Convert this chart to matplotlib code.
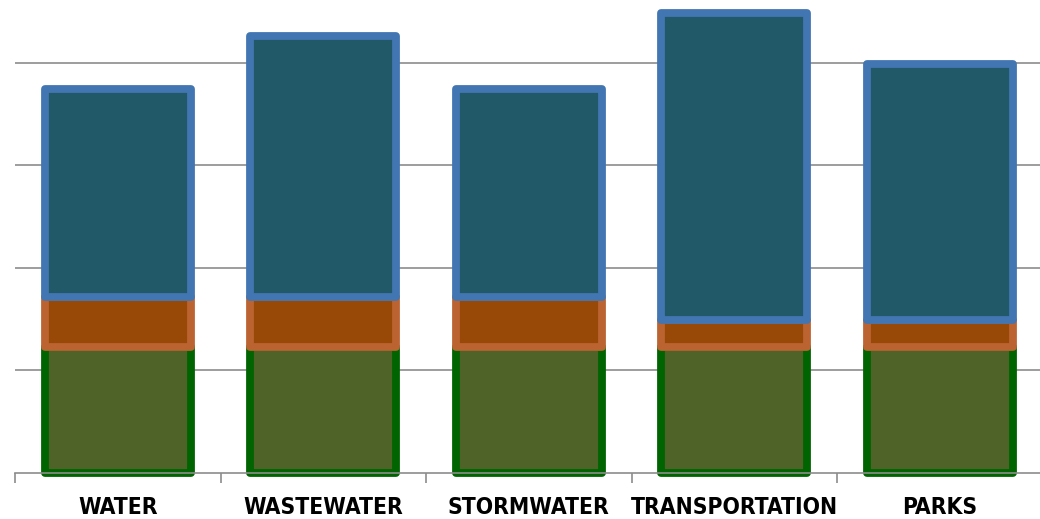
import matplotlib as mpl

mpl.use("Agg")
import matplotlib.pyplot as plt
from matplotlib import font_manager
import numpy as np

# --- data (grid spacing = 10 units) ---
categories = ["WATER", "WASTEWATER", "STORMWATER", "TRANSPORTATION", "PARKS"]
green_vals = [12.3, 12.3, 12.3, 12.3, 12.3]
orange_vals = [4.9, 4.9, 4.9, 2.6, 2.6]
blue_vals = [20.3, 25.4, 20.3, 30.0, 25.0]

# fill / edge colours per series
SERIES = [
    ("#4f6228", "#006400"),
    ("#984807", "#bb6331"),
    ("#215968", "#4276b2"),
]


def pick_label_font():
    """Narrow bold face if one is installed, else plain Liberation Sans."""
    fonts = font_manager.fontManager.ttflist
    names = {f.name for f in fonts}
    for name in ("Liberation Sans Narrow", "Arial Narrow"):
        if name in names:
            return {"family": name, "fontsize": 19}
    for f in fonts:
        if f.name == "DejaVu Sans" and f.stretch == "condensed" and f.weight in (700, "bold"):
            return {"family": "DejaVu Sans", "fontstretch": "condensed", "fontsize": 16.4}
    return {"family": "Liberation Sans", "fontsize": 15.6}


fig = plt.figure(figsize=(10.40, 5.19), dpi=100)
ax = fig.add_axes([15 / 1040, 46 / 519, 1027.5 / 1040, 471 / 519])

x = np.arange(len(categories))
width = 0.71
bottom = np.zeros(len(categories))
for vals, (fc, ec) in zip((green_vals, orange_vals, blue_vals), SERIES):
    bars = ax.bar(x, vals, width, bottom=bottom, color=fc, edgecolor=ec,
                  linewidth=5.6, zorder=2, clip_on=False)
    for b in bars:
        b.set_joinstyle("round")
    bottom += np.array(vals)

ax.set_xlim(-0.5, len(categories) - 0.5)
ax.set_ylim(0, 45.95)
ax.set_yticks([10, 20, 30, 40])
ax.yaxis.grid(True, color="#8c8c8c", linewidth=1.2, zorder=0)
ax.set_axisbelow(True)
ax.tick_params(axis="y", length=0, labelleft=False)

ax.set_xticks(x)
ax.set_xticklabels(categories, fontweight="bold", color="black", **pick_label_font())
ax.tick_params(axis="x", which="major", length=0, pad=25)
for lab in ax.get_xticklabels():
    lab.set_verticalalignment("center")
ax.set_xticks(np.arange(-0.5, len(categories)), minor=True)
ax.tick_params(axis="x", which="minor", length=7, width=1.2, color="#8c8c8c")

for side in ("top", "right", "left"):
    ax.spines[side].set_visible(False)
ax.spines["bottom"].set_color("#8c8c8c")
ax.spines["bottom"].set_linewidth(1.2)
ax.spines["bottom"].set_zorder(3)

fig.savefig("out.png", dpi=100)
